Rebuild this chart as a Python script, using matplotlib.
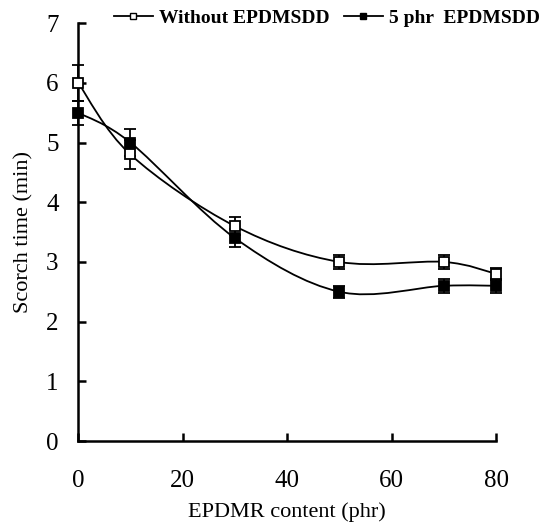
import matplotlib.pyplot as plt
from matplotlib.path import Path
from matplotlib.patches import PathPatch
from matplotlib.lines import Line2D
import numpy as np

plt.rcParams['font.family'] = ['Liberation Serif', 'DejaVu Serif']

content = [0, 10, 30, 50, 70, 80]
without_sdd = [6.0, 4.8, 3.6, 3.0, 3.0, 2.8]
without_err = [0.3, 0.25, 0.15, 0.12, 0.12, 0.1]
with_sdd = [5.5, 5.0, 3.4, 2.5, 2.6, 2.6]
with_err = [0.2, 0.22, 0.15, 0.1, 0.12, 0.12]
series_names = ['Without EPDMSDD', '5 phr  EPDMSDD']


def smooth_path(x, y):
    # excel-like smoothed line: catmull-rom as cubic bezier
    pts = np.column_stack([x, y]).astype(float)
    ext = np.vstack([pts[0], pts, pts[-1]])
    verts = [pts[0]]
    codes = [Path.MOVETO]
    for i in range(1, len(ext) - 2):
        p0, p1, p2, p3 = ext[i - 1], ext[i], ext[i + 1], ext[i + 2]
        verts += [p1 + (p2 - p0) / 6, p2 - (p3 - p1) / 6, p2]
        codes += [Path.CURVE4] * 3
    return Path(verts, codes)


fig, ax = plt.subplots(figsize=(5.58, 5.25), dpi=100)
fig.subplots_adjust(left=0.14, right=0.889, bottom=0.16, top=0.956)

for y in [without_sdd, with_sdd]:
    ax.add_patch(PathPatch(smooth_path(content, y), fc='none', ec='black', lw=1.3, zorder=2))

for y, err, face in [(without_sdd, without_err, 'white'), (with_sdd, with_err, 'black')]:
    _, caps, bars = ax.errorbar(content, y, yerr=err, fmt='s', ms=6.5, mfc=face,
                                mec='black', mew=1.3, ecolor='black', elinewidth=1.3,
                                capsize=4, capthick=1.3, zorder=3, clip_on=False)
    for c in caps:
        c.set_clip_on(False)
    for b in bars:
        b.set_clip_on(False)

ax.set_xlim(0, 80)
ax.set_ylim(0, 7)
ax.set_xticks([0, 20, 40, 60, 80])
ax.set_yticks(range(8))
ax.spines['top'].set_visible(False)
ax.spines['right'].set_visible(False)
ax.spines['left'].set_linewidth(1.8)
ax.spines['bottom'].set_linewidth(1.8)
ax.tick_params(axis='x', direction='in', length=6, width=1.8, pad=21, labelsize=18)
ax.tick_params(axis='y', direction='in', length=6, width=1.8, pad=14, labelsize=18)
ax.set_xlabel('EPDMR content (phr)', fontsize=16, labelpad=7)
ax.set_ylabel('Scorch time (min)', fontsize=16, labelpad=9)

handles = [
    Line2D([], [], color='black', lw=1.3, marker='s', ms=5, mfc='white', mec='black'),
    Line2D([], [], color='black', lw=1.3, marker='s', ms=5, mfc='black', mec='black'),
]
fig.legend(handles, series_names, loc='center left',
           bbox_to_anchor=(0.19, 0.965), ncol=2, frameon=False,
           prop={'size': 14, 'weight': 'bold'},
           handlelength=2.0, handletextpad=0.35, columnspacing=0.7, borderaxespad=0)

fig.savefig('out.png', dpi=100)
